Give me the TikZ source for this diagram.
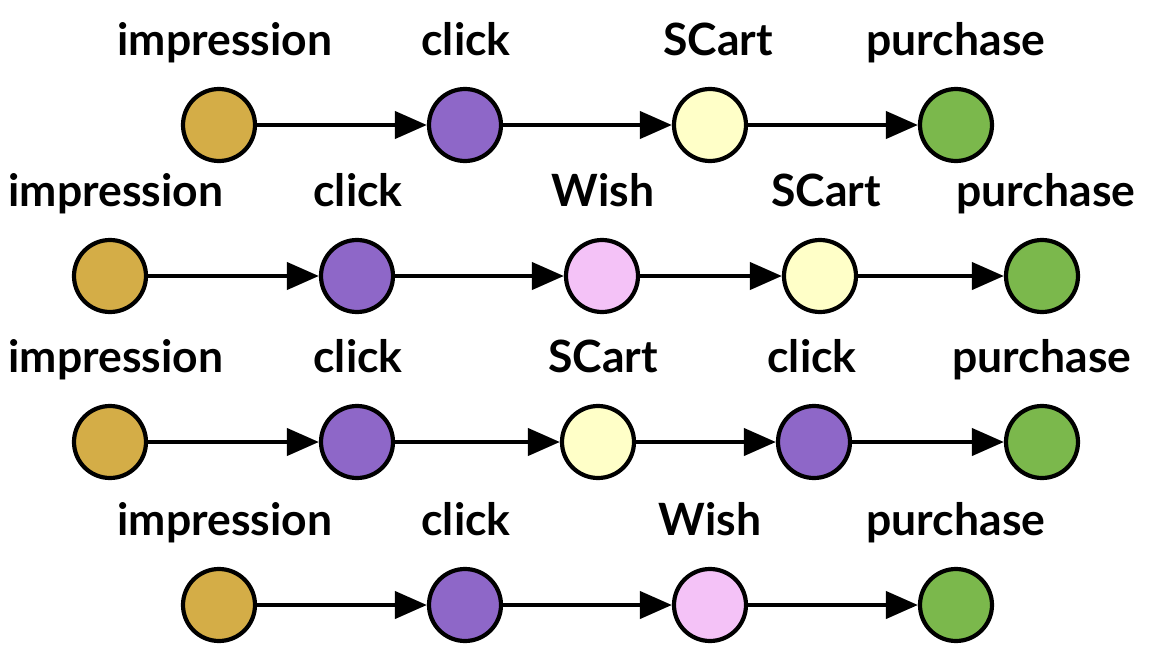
\documentclass[tikz,border=0pt]{standalone}
\usepackage{fontspec}
\setmainfont{Lato}
\usetikzlibrary{arrows.meta}
\definecolor{cgold}{HTML}{D4AD47}
\definecolor{cpurple}{HTML}{8E67C8}
\definecolor{cyellow}{HTML}{FFFFC8}
\definecolor{cpink}{HTML}{F4C2F7}
\definecolor{cgreen}{HTML}{7BB84C}
\tikzset{
  ev/.style={circle,draw=black,line width=4.2pt,minimum size=72pt,inner sep=0pt},
  lab/.style={anchor=base,inner sep=0pt,font=\fontsize{44.5}{48}\selectfont\bfseries},
  conn/.style={line width=4.2pt,-{Triangle[length=32pt,width=27pt]}},
}
\begin{document}
\begin{tikzpicture}[x=1pt,y=-1pt]
\useasboundingbox (0,0) rectangle (1152,656);
% row 1
\node[ev,fill=cgold]   (a1) at (219,125) {};
\node[ev,fill=cpurple] (a2) at (465,125) {};
\node[ev,fill=cyellow] (a3) at (710,125) {};
\node[ev,fill=cgreen]  (a4) at (956,125) {};
\node[lab] (la1) at (225,55) {impression};
\node[lab] (la2) at (466,55) {click};
\node[lab] (la3) at (718,55) {SCart};
\node[lab] (la4) at (956,55) {purchase};
\draw[conn] (a1) -- (a2);
\draw[conn] (a2) -- (a3);
\draw[conn] (a3) -- (a4);
% row 2
\node[ev,fill=cgold]   (b1) at (110,276) {};
\node[ev,fill=cpurple] (b2) at (357,276) {};
\node[ev,fill=cpink]   (b3) at (602,276) {};
\node[ev,fill=cyellow] (b4) at (820,276) {};
\node[ev,fill=cgreen]  (b5) at (1042,276) {};
\node[lab] (lb1) at (116,206) {impression};
\node[lab] (lb2) at (358,206) {click};
\node[lab] (lb3) at (603,206) {Wish};
\node[lab] (lb4) at (826,206) {SCart};
\node[lab] (lb5) at (1046,206) {purchase};
\draw[conn] (b1) -- (b2);
\draw[conn] (b2) -- (b3);
\draw[conn] (b3) -- (b4);
\draw[conn] (b4) -- (b5);
% row 3
\node[ev,fill=cgold]   (c1) at (110,442) {};
\node[ev,fill=cpurple] (c2) at (357,442) {};
\node[ev,fill=cyellow] (c3) at (598,442) {};
\node[ev,fill=cpurple] (c4) at (814,442) {};
\node[ev,fill=cgreen]  (c5) at (1042,442) {};
\node[lab] (lc1) at (116,372) {impression};
\node[lab] (lc2) at (358,372) {click};
\node[lab] (lc3) at (603,372) {SCart};
\node[lab] (lc4) at (812,372) {click};
\node[lab] (lc5) at (1042,372) {purchase};
\draw[conn] (c1) -- (c2);
\draw[conn] (c2) -- (c3);
\draw[conn] (c3) -- (c4);
\draw[conn] (c4) -- (c5);
% row 4
\node[ev,fill=cgold]   (d1) at (219,605) {};
\node[ev,fill=cpurple] (d2) at (465,605) {};
\node[ev,fill=cpink]   (d3) at (710,605) {};
\node[ev,fill=cgreen]  (d4) at (956,605) {};
\node[lab] (ld1) at (225,535) {impression};
\node[lab] (ld2) at (466,535) {click};
\node[lab] (ld3) at (710,535) {Wish};
\node[lab] (ld4) at (956,535) {purchase};
\draw[conn] (d1) -- (d2);
\draw[conn] (d2) -- (d3);
\draw[conn] (d3) -- (d4);
\end{tikzpicture}
\end{document}
